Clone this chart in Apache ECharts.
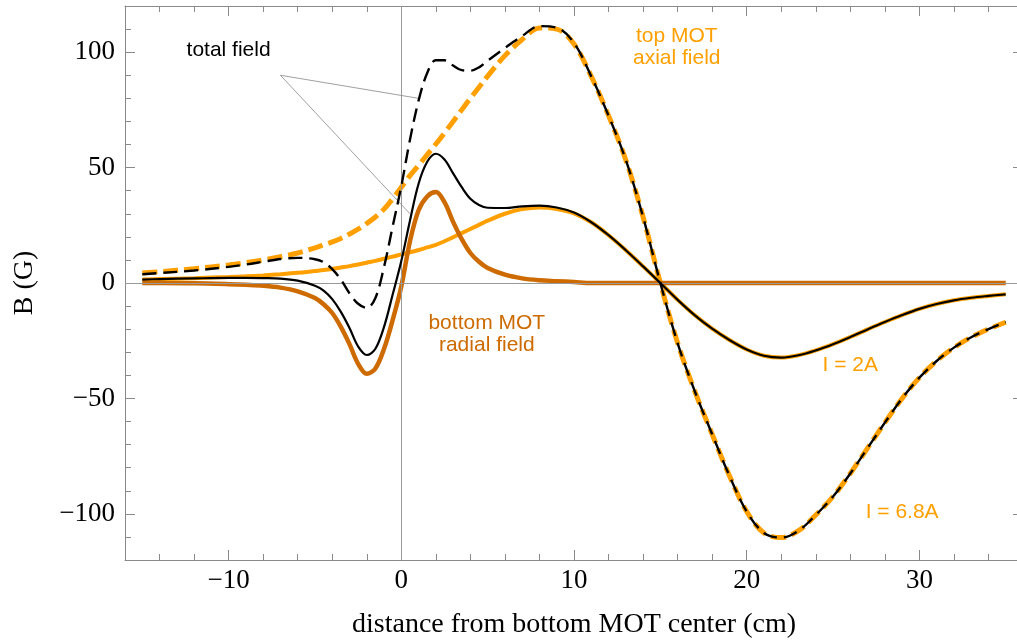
<!DOCTYPE html>
<html>
<head>
<meta charset="utf-8">
<script src="https://cdn.jsdelivr.net/npm/echarts@6/dist/echarts.min.js"></script>
<style>
  html, body { margin: 0; padding: 0; background: #fff; }
  #main { width: 1017px; height: 641px; }
</style>
</head>
<body>
<div id="main"></div>
<script>
// distance from bottom MOT center (cm)
const xs = [-15, -14, -12, -10, -9, -8, -7, -6, -5, -4.5, -4, -3.5, -3, -2.5, -2, -1.5, -1, -0.5,
  0, 0.5, 1, 1.5, 2, 2.5, 3, 3.5, 4, 4.5, 5, 6, 7, 8, 9, 10, 11, 12, 13, 14, 15, 16, 17, 18, 19,
  20, 21, 22, 23, 24, 25, 26, 27, 28, 29, 30, 31, 32, 33, 34, 35];

// B (G)
const bottomRadial = [0, 0, -0.1, -0.5, -0.8, -1.2, -2, -3.6, -6.5, -9.2, -13, -19, -26.5, -35, -39.3, -37, -28.5, -16,
  -1.5, 18, 31.5, 37.5, 39.4, 35, 26.5, 19, 13, 9.2, 6.5, 3.6, 2, 1.2, 0.8, 0.4, 0, 0, 0, 0, 0, 0, 0, 0, 0,
  0, 0, 0, 0, 0, 0, 0, 0, 0, 0, 0, 0, 0, 0, 0, 0];
const topAxial2A = [1.5, 1.7, 2.1, 2.6, 2.9, 3.3, 3.8, 4.4, 5.2, 5.6, 6.1, 6.7, 7.3, 8, 8.8, 9.6, 10.5, 11.4,
  12.4, 13.3, 14.3, 15.4, 16.5, 18.1, 19.8, 21.6, 23.4, 25.2, 27, 30, 32, 32.7, 32.1, 30.2, 26.3, 20.7, 14.2, 7.2, 0, -7.3, -14, -19.8, -24.7,
  -28.8, -31.5, -32.3, -31.3, -29.2, -26.5, -23.4, -20.1, -16.9, -13.9, -11.2, -9.1, -7.5, -6.4, -5.6, -4.9];
const total2A = [1.5, 1.7, 2, 2.2, 2.2, 2.1, 1.9, 1, -1.2, -3.3, -7, -12.5, -19.5, -27.5, -31.2, -28.5, -19, -5,
  9.5, 27, 43, 52.5, 56, 53.5, 47.5, 41.5, 36.5, 33.8, 32.6, 32.5, 33.2, 33.5, 32.7, 30.5, 26.3, 20.7, 14.2, 7.2, 0, -7.3, -14, -19.8, -24.7,
  -28.8, -31.5, -32.3, -31.3, -29.2, -26.5, -23.4, -20.1, -16.9, -13.9, -11.2, -9.1, -7.5, -6.4, -5.6, -4.9];
const topAxial68A = [4.3, 4.9, 6.2, 7.8, 8.8, 10, 11.4, 13, 15.2, 16.5, 17.8, 19.3, 21.2, 23.3, 25.8, 28.6, 32, 36.5,
  41.5, 46.5, 51, 55.6, 60.2, 65, 70, 75, 80, 84.8, 89.6, 98.5, 105.5, 110.5, 110, 103.5, 89.5, 72.5, 53.3, 28.6, 0, -26, -47, -65.5, -83.5,
  -99, -108.3, -110.3, -107.3, -100.5, -92.5, -82.5, -71.5, -60.5, -50, -41, -33.8, -28, -23.5, -20, -17];
const total68A = [3.8, 4.3, 5.4, 7, 8, 9.2, 10.4, 10.9, 10.3, 9, 6, 1.5, -4.5, -9, -10.8, -6.5, 7, 24.5,
  42, 62, 79, 91, 96.5, 96.5, 94.2, 92.2, 92, 93.4, 96.3, 101.8, 107, 111.3, 110.6, 104, 89.5, 72.5, 53.3, 28.6, 0, -26, -47, -65.5, -83.5,
  -99, -108.3, -110.3, -107.3, -100.5, -92.5, -82.5, -71.5, -60.5, -50, -41, -33.8, -28, -23.5, -20, -17];

const xMajor = [-10, 0, 10, 20, 30];
const yMajor = [-100, -50, 0, 50, 100];

const lightOrange = '#ffa000';
const darkOrange = '#cd6a00';

// annotations in data coordinates
const notes = [
  { text: 'total field', coord: [-10, 101], color: '#000' },
  { text: 'top MOT\naxial field', coord: [15.95, 102], color: lightOrange },
  { text: 'bottom MOT\nradial field', coord: [4.95, -22.2], color: darkOrange },
  { text: 'I = 2A', coord: [26, -35.6], color: lightOrange },
  { text: 'I = 6.8A', coord: [29, -99.3], color: lightOrange }
];
const leaders = [
  [[-7, 90], [1, 80]],
  [[-7, 90], [0.5, 30]]
];

const pairs = (ys) => xs.map((x, i) => [x, ys[i]]);
const minus = (v) => (v < 0 ? '\u2212' + Math.abs(v) : String(v));

const frame = '#8a8a8a';
const serif = 'Liberation Serif';
const sans = 'Liberation Sans';

const baseAxis = (min, max, step) => ({
  type: 'value',
  min: min,
  max: max,
  interval: step,
  splitLine: { show: false },
  axisLine: { show: true, onZero: false, lineStyle: { color: frame, width: 1 } },
  axisTick: { show: true, inside: true, length: 6, lineStyle: { color: frame } },
  axisLabel: { show: false }
});

const majorAxis = (min, max, step, ticks, labels) => {
  const a = baseAxis(min, max, step);
  a.axisLine = { show: false, onZero: false };
  a.axisTick = { show: true, inside: true, length: 10, customValues: ticks, lineStyle: { color: frame } };
  a.axisLabel = labels
    ? { show: true, customValues: ticks, formatter: minus, color: '#000', fontFamily: serif, fontSize: 27, margin: 8 }
    : { show: false };
  return a;
};

const xAxes = [
  Object.assign(baseAxis(-16, 36, 2), {
    position: 'bottom',
    name: 'distance from bottom MOT center (cm)',
    nameLocation: 'middle',
    nameGap: 51,
    nameTextStyle: { color: '#000', fontFamily: serif, fontSize: 28 }
  }),
  Object.assign(majorAxis(-16, 36, 2, xMajor, true), { position: 'bottom' }),
  Object.assign(baseAxis(-16, 36, 2), { position: 'top' }),
  Object.assign(majorAxis(-16, 36, 2, xMajor, false), { position: 'top' })
];
const yAxes = [
  Object.assign(baseAxis(-120, 120, 10), {
    position: 'left',
    name: 'B (G)',
    nameLocation: 'middle',
    nameRotate: 90,
    nameGap: 86,
    nameTextStyle: { color: '#000', fontFamily: serif, fontSize: 28 }
  }),
  Object.assign(majorAxis(-120, 120, 10, yMajor, true), { position: 'left' }),
  Object.assign(baseAxis(-120, 120, 10), { position: 'right' }),
  Object.assign(majorAxis(-120, 120, 10, yMajor, false), { position: 'right' })
];
yAxes[1].axisLabel.margin = 10;
xAxes[1].axisLabel.margin = 7;

const curve = (ys, color, width, dash, z) => ({
  type: 'line',
  data: pairs(ys),
  xAxisIndex: 0,
  yAxisIndex: 0,
  symbol: 'none',
  smooth: 0.35,
  silent: true,
  z: z,
  lineStyle: { color: color, width: width, type: dash || 'solid', cap: 'butt' }
});

const option = {
  backgroundColor: '#fff',
  animation: false,
  grid: { left: 125, top: 6, right: -6, bottom: 81, containLabel: false, outerBoundsMode: 'none' },
  xAxis: xAxes,
  yAxis: yAxes,
  series: [
    {
      type: 'line',
      data: [],
      silent: true,
      z: 1,
      markLine: {
        silent: true,
        symbol: 'none',
        label: { show: false },
        lineStyle: { color: '#999', width: 1, type: 'solid' },
        data: [{ xAxis: 0 }, { yAxis: 0 }].concat(
          leaders.map((l) => [{ coord: l[0], lineStyle: { color: '#888', width: 0.8 } }, { coord: l[1] }])
        )
      }
    },
    curve(topAxial68A, lightOrange, 5, [15, 6], 2),
    curve(topAxial2A, lightOrange, 4, null, 3),
    curve(bottomRadial, darkOrange, 4.5, null, 4),
    curve(total68A, '#000', 2.4, [14, 7], 5),
    curve(total2A, '#000', 2.2, null, 6),
    {
      type: 'line',
      data: [],
      silent: true,
      z: 8,
      markPoint: {
        silent: true,
        symbol: 'circle',
        symbolSize: 0,
        data: notes.map((n) => ({
          name: n.text,
          coord: n.coord,
          label: { color: n.color }
        })),
        label: {
          show: true,
          position: 'inside',
          formatter: '{b}',
          fontFamily: sans,
          fontSize: 21,
          lineHeight: 22,
          align: 'center'
        }
      }
    }
  ]
};

echarts.init(document.getElementById('main')).setOption(option);
</script>
</body>
</html>
